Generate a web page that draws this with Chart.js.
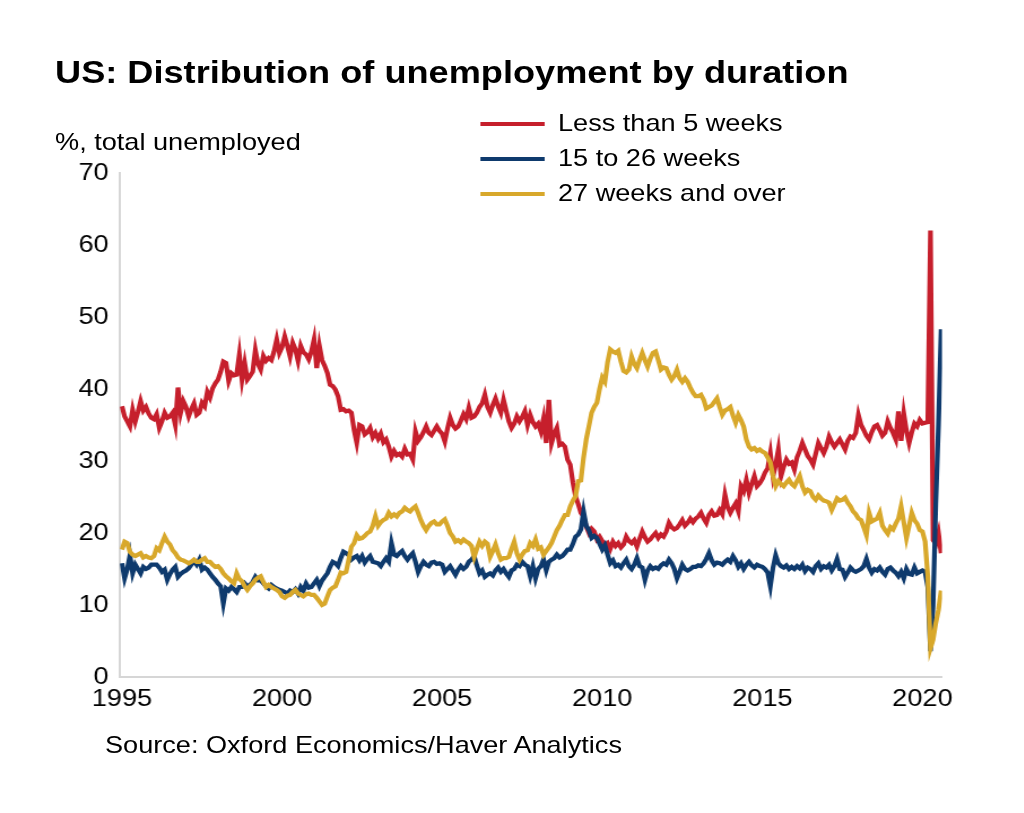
<!DOCTYPE html>
<html>
<head>
<meta charset="utf-8">
<script src="https://cdn.jsdelivr.net/npm/chart.js@4.4.1/dist/chart.umd.min.js"></script>
<style>
  html, body { margin: 0; padding: 0; background: #fff; width: 1024px; height: 813px; overflow: hidden; }
  #stage { position: absolute; left: 0; top: 0; width: 906px; height: 813px; transform: scaleX(1.13); transform-origin: 0 0;
           font-family: "Liberation Sans", Arial, sans-serif; color: #000; }
  #chart { position: absolute; left: 0; top: 0; }
  .t { position: absolute; white-space: nowrap; line-height: 1; }
  #title { left: 48.7px; top: 55.8px; font-size: 32px; font-weight: bold; }
  #unit { left: 48.7px; top: 129.7px; font-size: 24px; }
  #source { left: 92.9px; top: 733.3px; font-size: 24px; }
  .leg-line { position: absolute; left: 425.4px; width: 56.9px; height: 4px; }
  .leg-text { left: 493.8px; font-size: 24px; }
</style>
</head>
<body>
<div id="stage">
  <canvas id="chart" width="906" height="813"></canvas>
  <div class="t" id="title">US: Distribution of unemployment by duration</div>
  <div class="t" id="unit">%, total unemployed</div>
  <div id="legend"></div>
  <div class="t" id="source">Source: Oxford Economics/Haver Analytics</div>
</div>
<script>
// Monthly data, January 1995 to August 2020 (% of total unemployed)
const startYear = 1995;
const yearTicks = [1995, 2000, 2005, 2010, 2015, 2020];

const lessThan5Weeks = [
  37.6, 36.2, 35.5, 34.8, 37.1, 35.5, 36.8, 38.3, 37.0, 37.5, 36.6, 36.0, // 1995
  35.8, 36.5, 34.6, 35.5, 36.7, 36.0, 36.2, 36.7, 35.0, 40.2, 36.7, 38.3, // 1996
  37.5, 36.2, 37.2, 38.0, 36.4, 36.7, 38.1, 37.6, 39.6, 38.8, 40.1, 40.8, // 1997
  41.3, 42.4, 43.8, 43.6, 41.1, 42.2, 41.9, 42.0, 44.8, 41.3, 43.6, 41.3, // 1998
  41.8, 42.4, 45.4, 43.5, 42.7, 44.6, 43.9, 44.3, 44.0, 45.2, 46.9, 45.0, // 1999
  45.8, 47.3, 46.0, 44.5, 46.4, 45.5, 43.9, 46.0, 45.1, 44.8, 44.1, 45.2, // 2000
  46.9, 42.9, 46.0, 44.0, 43.2, 42.2, 40.6, 40.4, 39.9, 39.0, 37.1, 37.2, // 2001
  36.9, 37.0, 36.7, 34.3, 32.5, 35.0, 34.8, 33.7, 34.0, 34.6, 33.3, 33.9, // 2002
  33.1, 33.8, 32.6, 33.0, 32.0, 30.6, 31.4, 30.8, 31.0, 30.6, 31.7, 30.9, // 2003
  31.0, 30.2, 34.1, 32.8, 33.3, 34.0, 34.8, 33.9, 33.6, 34.2, 34.8, 34.2, // 2004
  33.8, 32.7, 34.5, 36.0, 35.0, 34.5, 34.8, 35.6, 36.5, 35.8, 37.4, 36.0, // 2005
  36.2, 36.7, 37.5, 38.0, 39.2, 37.5, 36.7, 37.8, 38.7, 37.6, 36.7, 38.5, // 2006
  37.0, 35.5, 34.6, 35.2, 36.2, 35.5, 36.1, 36.9, 35.0, 36.4, 35.4, 34.8, // 2007
  35.2, 34.1, 35.9, 32.5, 38.5, 32.5, 33.8, 34.6, 32.2, 32.4, 32.0, 30.2, // 2008
  29.5, 27.0, 25.1, 24.0, 22.8, 22.3, 20.9, 20.0, 20.6, 20.2, 19.1, 19.5, // 2009
  18.9, 18.3, 18.6, 17.8, 18.8, 18.2, 18.6, 18.0, 18.4, 19.5, 18.9, 18.6, // 2010
  19.0, 18.1, 19.2, 20.2, 19.4, 18.8, 19.1, 19.6, 20.0, 19.3, 19.8, 19.5, // 2011
  20.2, 21.4, 20.8, 20.5, 20.7, 21.2, 21.8, 21.0, 21.4, 22.0, 21.5, 22.0, // 2012
  22.3, 22.8, 22.0, 21.4, 22.5, 23.0, 22.4, 22.5, 23.2, 22.6, 25.3, 23.6, // 2013
  22.8, 23.5, 24.1, 23.0, 26.5, 25.8, 27.4, 25.6, 26.8, 27.9, 26.5, 26.9, // 2014
  27.5, 28.4, 29.0, 31.1, 27.9, 29.5, 31.6, 27.9, 29.2, 30.2, 29.6, 29.8, // 2015
  28.8, 30.5, 31.4, 32.5, 31.6, 30.7, 30.2, 29.5, 31.0, 32.5, 31.8, 31.1, // 2016
  32.0, 33.4, 32.6, 32.0, 32.5, 33.0, 32.3, 31.6, 32.8, 33.4, 33.2, 33.9, // 2017
  36.4, 35.0, 34.3, 33.5, 33.0, 34.0, 34.8, 35.0, 34.3, 33.5, 33.9, 35.5, // 2018
  34.6, 33.9, 33.0, 36.9, 32.8, 36.6, 34.2, 32.5, 34.0, 35.2, 34.8, 35.7, // 2019
  35.2, 35.3, 35.4, 62.0, 19.0, 18.5, 20.0, 17.2                          // 2020
];

const weeks15to26 = [
  15.8, 13.7, 15.0, 16.9, 14.4, 15.6, 15.0, 14.4, 15.3, 15.0, 15.2, 15.6, // 1995
  15.6, 15.6, 15.2, 14.6, 14.9, 13.5, 14.3, 14.9, 15.3, 13.9, 14.3, 14.6, // 1996
  14.8, 15.1, 15.6, 16.1, 15.6, 16.3, 14.9, 15.2, 14.9, 14.4, 13.9, 13.5, // 1997
  13.0, 12.6, 10.2, 12.3, 12.0, 12.5, 12.2, 11.8, 12.5, 12.5, 13.0, 12.6, // 1998
  12.8, 13.2, 13.9, 13.4, 13.4, 13.0, 12.6, 12.3, 12.8, 12.5, 12.3, 12.1, // 1999
  12.0, 11.8, 11.6, 12.0, 11.8, 12.2, 11.6, 12.5, 12.0, 13.0, 12.4, 12.5, // 2000
  13.0, 13.5, 12.6, 13.4, 13.9, 14.4, 15.3, 16.0, 15.8, 15.4, 16.5, 17.4, // 2001
  17.2, 16.9, 16.3, 16.6, 16.8, 16.2, 16.8, 15.9, 16.4, 16.8, 16.0, 15.9, // 2002
  15.8, 15.4, 16.0, 16.5, 16.0, 18.6, 17.0, 16.8, 17.2, 17.5, 16.8, 16.3, // 2003
  16.8, 17.2, 16.0, 14.6, 15.4, 16.0, 15.6, 15.4, 15.9, 16.0, 15.7, 15.8, // 2004
  15.6, 14.6, 15.0, 15.4, 14.8, 14.2, 14.9, 15.4, 15.0, 15.3, 16.0, 16.3, // 2005
  16.8, 15.5, 14.4, 14.8, 13.9, 14.2, 14.4, 14.1, 14.8, 15.2, 14.6, 15.0, // 2006
  14.4, 13.9, 14.8, 15.0, 15.6, 15.4, 16.0, 15.6, 15.4, 14.0, 15.4, 13.7, // 2007
  15.0, 15.4, 16.3, 14.8, 16.0, 16.3, 16.5, 17.0, 16.6, 16.8, 17.2, 17.7, // 2008
  17.7, 18.5, 19.5, 19.8, 20.5, 23.0, 21.0, 20.4, 19.3, 19.6, 19.3, 18.5, // 2009
  17.7, 18.3, 17.0, 15.8, 16.2, 15.4, 15.6, 15.2, 15.8, 16.3, 15.4, 15.0, // 2010
  15.6, 16.5, 15.4, 15.2, 13.5, 14.8, 15.4, 15.0, 15.2, 15.0, 15.5, 15.8, // 2011
  15.6, 16.3, 15.8, 15.0, 13.7, 14.6, 15.6, 15.0, 14.8, 15.0, 15.3, 15.3, // 2012
  15.5, 15.4, 15.8, 16.4, 17.2, 16.2, 15.6, 15.9, 15.8, 15.6, 16.0, 16.3, // 2013
  16.0, 16.8, 16.2, 15.3, 15.8, 15.0, 15.6, 16.0, 15.5, 15.2, 15.6, 15.4, // 2014
  15.3, 15.0, 14.5, 12.6, 15.2, 16.9, 15.8, 15.4, 15.2, 15.5, 15.0, 15.3, // 2015
  15.0, 15.4, 15.1, 15.6, 14.7, 15.2, 15.0, 14.6, 15.4, 15.8, 15.0, 15.4, // 2016
  15.2, 15.6, 14.8, 15.4, 16.4, 15.0, 14.9, 13.9, 14.5, 15.2, 14.8, 14.6, // 2017
  14.8, 15.0, 15.4, 16.4, 15.2, 14.5, 15.0, 14.8, 15.2, 14.6, 14.2, 15.0, // 2018
  15.2, 14.8, 14.5, 14.0, 14.6, 13.7, 15.0, 14.3, 14.2, 15.2, 14.4, 14.6, // 2019
  14.8, 14.6, 12.5, 3.6, 10.0, 24.0, 35.0, 48.3                           // 2020
];

const weeks27Plus = [
  17.7, 18.8, 18.6, 17.4, 17.0, 16.8, 17.0, 17.2, 16.6, 16.8, 16.6, 16.5, // 1995
  16.8, 17.9, 17.6, 18.6, 19.5, 18.8, 18.4, 17.6, 17.2, 16.6, 16.3, 16.2, // 1996
  16.0, 15.8, 16.0, 16.3, 16.0, 16.0, 16.3, 16.5, 16.0, 16.0, 15.6, 15.3, // 1997
  15.4, 15.0, 14.4, 14.0, 13.7, 13.3, 13.0, 14.4, 13.6, 13.3, 12.6, 12.1, // 1998
  12.6, 13.0, 13.5, 13.8, 14.0, 13.2, 12.5, 12.8, 12.5, 12.3, 12.1, 11.8, // 1999
  11.2, 11.0, 11.3, 11.4, 11.8, 12.1, 11.6, 11.4, 11.2, 11.5, 11.6, 11.4, // 2000
  11.4, 11.0, 10.5, 10.0, 10.2, 11.2, 12.1, 12.4, 12.6, 13.5, 14.5, 14.4, // 2001
  14.6, 16.3, 18.1, 18.6, 19.7, 19.2, 19.3, 19.6, 20.0, 20.2, 21.0, 22.3, // 2002
  21.0, 21.5, 21.8, 22.0, 22.8, 22.3, 22.6, 22.3, 22.8, 23.0, 23.5, 23.2, // 2003
  23.0, 23.4, 23.7, 22.8, 21.8, 21.0, 20.4, 21.0, 21.4, 21.6, 21.2, 21.2, // 2004
  21.6, 21.9, 21.0, 20.0, 19.5, 18.8, 19.0, 18.7, 19.1, 18.8, 18.6, 18.2, // 2005
  16.7, 17.8, 18.8, 18.2, 18.8, 18.5, 16.7, 17.5, 18.4, 17.2, 16.3, 16.5, // 2006
  16.5, 16.7, 17.8, 18.8, 17.2, 16.3, 17.0, 17.5, 17.6, 18.6, 18.2, 19.1, // 2007
  17.8, 18.0, 17.0, 17.5, 18.0, 18.6, 19.5, 20.4, 21.0, 21.8, 22.5, 22.5, // 2008
  23.7, 24.5, 25.1, 27.2, 27.3, 30.5, 33.0, 34.8, 36.7, 37.5, 38.1, 40.0, // 2009
  41.6, 41.0, 43.7, 45.5, 45.2, 45.0, 45.3, 43.8, 42.5, 42.3, 42.7, 44.5, // 2010
  43.5, 42.9, 44.0, 45.0, 44.0, 43.1, 44.2, 45.0, 45.2, 44.0, 42.7, 43.0, // 2011
  42.9, 42.0, 41.3, 41.8, 42.7, 41.5, 41.0, 41.5, 41.0, 40.2, 39.5, 39.0, // 2012
  39.0, 39.2, 38.5, 37.3, 37.5, 37.7, 38.2, 38.7, 37.5, 36.4, 37.0, 37.2, // 2013
  37.5, 36.3, 35.3, 36.4, 35.7, 34.8, 33.0, 32.0, 31.6, 31.8, 31.4, 31.6, // 2014
  31.3, 31.1, 30.5, 29.8, 27.9, 26.5, 27.2, 26.8, 26.5, 27.0, 27.4, 26.8, // 2015
  26.5, 27.2, 27.9, 26.5, 25.6, 26.0, 25.8, 25.0, 24.6, 25.2, 24.8, 24.5, // 2016
  24.4, 24.2, 23.2, 24.0, 24.8, 24.5, 24.6, 24.9, 24.2, 23.7, 23.0, 22.6, // 2017
  22.0, 21.8, 20.8, 19.7, 22.8, 21.6, 21.8, 22.0, 22.8, 21.0, 20.4, 19.9, // 2018
  20.8, 20.5, 21.3, 22.0, 23.7, 21.5, 19.3, 21.0, 22.8, 21.8, 21.3, 20.4, // 2019
  20.2, 18.8, 14.0, 4.0, 5.2, 7.5, 9.3, 12.0                              // 2020
];

const seriesNames = ["Less than 5 weeks", "15 to 26 weeks", "27 weeks and over"];
const seriesColors = ["#C61F2C", "#0E3A6D", "#D8A82B"];
const seriesValues = [lessThan5Weeks, weeks15to26, weeks27Plus];

const toPoints = arr => arr.map((v, i) => ({ x: startYear + i / 12, y: v }));

const FONT = "'Liberation Sans', Arial, sans-serif";

const datasets = seriesValues.map((vals, k) => ({
  label: seriesNames[k],
  data: toPoints(vals),
  borderColor: seriesColors[k],
  backgroundColor: seriesColors[k],
  borderWidth: 4.2,
  pointRadius: 0,
  tension: 0,
  fill: false,
  order: 2 - k
}));

// HTML legend built from the datasets
const legendEl = document.getElementById('legend');
const rowTops = [111.4, 146.4, 181.4];
datasets.forEach((ds, k) => {
  const line = document.createElement('div');
  line.className = 'leg-line';
  line.style.top = (rowTops[k] + 10.5) + 'px';
  line.style.background = ds.borderColor;
  legendEl.appendChild(line);
  const txt = document.createElement('div');
  txt.className = 't leg-text';
  txt.style.top = rowTops[k] + 'px';
  txt.textContent = ds.label;
  legendEl.appendChild(txt);
});

new Chart(document.getElementById('chart'), {
  type: 'line',
  data: { datasets },
  options: {
    responsive: false,
    animation: false,
    layout: { padding: { left: 0, right: 72.4, top: 173, bottom: 0 } },
    plugins: { legend: { display: false }, title: { display: false }, tooltip: { enabled: false } },
    scales: {
      x: {
        type: 'linear',
        min: 1994.94,
        max: 2020.61,
        afterBuildTicks: axis => { axis.ticks = yearTicks.map(v => ({ value: v })); },
        afterFit: axis => { axis.height = 136; },
        grid: { display: false, drawTicks: false },
        border: { display: true, color: '#d6d6d6', width: 2 },
        ticks: {
          callback: v => String(v),
          autoSkip: false, maxRotation: 0,
          padding: 8,
          color: '#000',
          font: { family: FONT, size: 24 }
        }
      },
      y: {
        min: 0,
        max: 70,
        afterFit: axis => { axis.width = 106.2; },
        grid: { display: false, drawTicks: false },
        border: { display: true, color: '#d6d6d6', width: 2 },
        ticks: {
          stepSize: 10,
          padding: 10,
          color: '#000',
          font: { family: FONT, size: 24 }
        }
      }
    }
  }
});
</script>
</body>
</html>
